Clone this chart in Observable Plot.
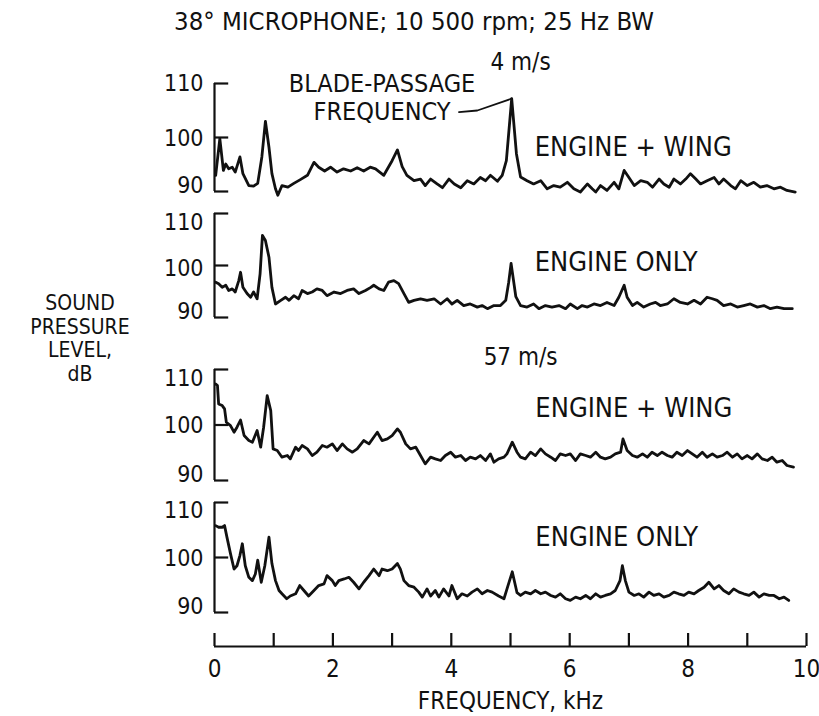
<!DOCTYPE html>
<html><head><meta charset="utf-8">
<script src="https://cdn.jsdelivr.net/npm/d3@7"></script>
<script src="https://cdn.jsdelivr.net/npm/@observablehq/plot@0.6"></script>
<style>
body{margin:0;background:#fff;}
#chart{position:relative;width:819px;height:716px;background:#fff;font-family:"Liberation Sans Narrow","DejaVu Sans Condensed",sans-serif;color:#111;overflow:hidden;}
#chart svg{position:absolute;left:0;overflow:visible;background:transparent;}
.lbl{position:absolute;white-space:nowrap;line-height:1;}
</style></head><body><div id="chart"></div>
<script>
// ---------- data ----------
const title = "38\u00B0 MICROPHONE; 10 500 rpm; 25 Hz BW";
const yAxisTitle = ["SOUND", "PRESSURE", "LEVEL,", "dB"];
const xAxisTitle = "FREQUENCY, kHz";
const speeds = ["4 m/s", "57 m/s"];
const configs = ["ENGINE + WING", "ENGINE ONLY", "ENGINE + WING", "ENGINE ONLY"];
const annotation = ["BLADE-PASSAGE", "FREQUENCY"];
const yTicks = [90, 100, 110];
const xTicks = [0, 1, 2, 3, 4, 5, 6, 7, 8, 9, 10];
const xTickLabels = [0, 2, 4, 6, 8, 10];
const leader = [[4.13, 104.7], [4.44, 105.0], [5.02, 107.2]];

const engineWing4 = [[0.02,93.0],[0.09,99.8],[0.15,93.9],[0.19,95.1],[0.24,94.2],[0.30,94.5],[0.35,93.6],[0.43,96.4],[0.48,93.3],[0.58,91.1],[0.66,91.0],[0.73,91.5],[0.80,96.4],[0.86,103.0],[0.92,98.2],[0.97,93.3],[1.03,90.5],[1.07,89.3],[1.14,91.1],[1.24,90.8],[1.34,91.5],[1.45,92.2],[1.57,93.0],[1.68,95.4],[1.76,94.5],[1.86,93.8],[1.96,94.5],[2.07,93.6],[2.18,94.2],[2.30,93.8],[2.41,94.4],[2.52,93.8],[2.63,94.5],[2.72,94.2],[2.86,93.0],[3.00,95.7],[3.09,97.7],[3.17,94.6],[3.25,93.0],[3.37,92.0],[3.48,92.3],[3.56,91.1],[3.65,92.3],[3.76,91.4],[3.85,90.7],[3.96,92.3],[4.05,91.4],[4.16,90.7],[4.27,92.0],[4.38,91.4],[4.49,92.6],[4.58,92.0],[4.66,93.0],[4.78,91.9],[4.86,93.0],[4.93,95.7],[5.02,107.2],[5.10,97.0],[5.17,92.7],[5.28,92.0],[5.39,91.4],[5.51,92.0],[5.62,90.5],[5.73,91.1],[5.84,90.8],[5.96,91.7],[6.07,90.5],[6.18,89.9],[6.30,91.4],[6.38,90.5],[6.44,89.9],[6.52,91.1],[6.63,90.2],[6.75,91.7],[6.83,90.5],[6.92,93.9],[7.00,92.6],[7.09,91.1],[7.20,92.0],[7.31,91.7],[7.40,90.8],[7.51,92.3],[7.59,91.4],[7.68,90.8],[7.76,92.3],[7.87,91.4],[7.96,92.3],[8.04,93.3],[8.13,92.3],[8.21,91.4],[8.32,92.0],[8.44,92.6],[8.52,91.4],[8.60,92.3],[8.72,91.1],[8.80,90.5],[8.89,92.0],[9.00,91.1],[9.11,91.7],[9.22,90.8],[9.33,91.1],[9.45,90.5],[9.56,90.8],[9.67,90.2],[9.81,89.9]];

const engineOnly4 = [[0.02,96.8],[0.07,96.5],[0.13,95.8],[0.19,96.2],[0.24,95.2],[0.30,95.5],[0.35,94.9],[0.41,97.1],[0.44,98.7],[0.48,95.8],[0.55,94.6],[0.61,93.9],[0.66,94.9],[0.72,93.6],[0.77,98.4],[0.81,105.8],[0.86,104.8],[0.92,101.6],[0.97,95.8],[1.03,92.6],[1.12,93.3],[1.20,93.9],[1.26,93.3],[1.34,94.2],[1.42,93.6],[1.48,95.2],[1.57,94.6],[1.65,94.9],[1.73,95.5],[1.82,95.2],[1.90,94.2],[2.02,94.9],[2.13,94.6],[2.24,95.2],[2.35,95.5],[2.44,94.6],[2.55,95.2],[2.64,95.8],[2.69,96.2],[2.78,95.5],[2.86,95.2],[2.94,96.8],[3.03,97.1],[3.11,96.5],[3.20,94.6],[3.28,92.9],[3.37,93.3],[3.48,93.6],[3.59,93.3],[3.71,93.6],[3.82,92.6],[3.93,93.6],[4.01,92.6],[4.10,93.3],[4.21,92.3],[4.32,92.6],[4.44,92.0],[4.52,92.3],[4.61,91.7],[4.72,92.3],[4.83,92.3],[4.92,93.3],[4.97,96.8],[5.01,100.4],[5.09,94.0],[5.17,92.3],[5.28,92.0],[5.39,92.6],[5.48,91.7],[5.59,92.3],[5.70,92.0],[5.82,92.3],[5.93,91.7],[6.01,92.6],[6.13,91.7],[6.21,92.3],[6.30,92.0],[6.41,92.6],[6.52,92.3],[6.63,92.9],[6.75,92.3],[6.83,93.9],[6.92,96.2],[6.97,93.9],[7.06,92.3],[7.14,92.9],[7.25,92.0],[7.36,92.6],[7.45,92.9],[7.53,92.3],[7.65,92.6],[7.76,93.6],[7.87,92.9],[7.99,92.6],[8.10,93.3],[8.21,92.6],[8.32,93.9],[8.41,93.6],[8.49,93.3],[8.60,92.3],[8.72,92.6],[8.83,92.0],[8.94,92.3],[9.05,92.6],[9.17,92.0],[9.28,92.3],[9.39,91.7],[9.50,92.0],[9.62,91.7],[9.76,91.7]];

const engineWing57 = [[0.02,107.4],[0.05,107.1],[0.07,103.8],[0.13,103.5],[0.17,102.9],[0.20,100.5],[0.27,99.9],[0.33,98.7],[0.38,99.6],[0.44,100.9],[0.50,98.1],[0.58,97.2],[0.64,96.9],[0.72,99.0],[0.78,96.0],[0.83,99.6],[0.89,105.3],[0.95,102.6],[0.99,95.7],[1.06,95.4],[1.14,94.2],[1.23,94.5],[1.28,93.9],[1.37,96.0],[1.42,95.4],[1.48,96.3],[1.57,95.7],[1.65,94.5],[1.73,95.1],[1.82,96.3],[1.90,96.0],[1.99,96.6],[2.07,95.4],[2.16,96.6],[2.24,95.7],[2.33,95.1],[2.41,95.7],[2.52,97.2],[2.61,96.6],[2.69,97.8],[2.75,98.7],[2.83,97.2],[2.92,97.5],[3.00,98.1],[3.09,99.3],[3.14,98.7],[3.23,96.6],[3.31,95.7],[3.40,96.0],[3.48,94.5],[3.56,93.0],[3.65,94.2],[3.73,93.9],[3.82,93.6],[3.90,94.5],[3.99,95.1],[4.07,94.2],[4.16,94.5],[4.24,93.6],[4.32,94.2],[4.41,93.9],[4.49,94.5],[4.58,93.6],[4.66,94.8],[4.72,93.3],[4.80,93.9],[4.89,94.2],[4.94,94.8],[5.03,96.9],[5.11,95.1],[5.17,94.2],[5.25,93.9],[5.34,95.1],[5.42,94.5],[5.51,95.7],[5.59,94.8],[5.68,94.2],[5.76,93.6],[5.84,94.8],[5.93,94.5],[6.01,94.8],[6.10,93.6],[6.18,94.8],[6.27,94.5],[6.35,94.2],[6.44,95.1],[6.52,94.2],[6.60,93.9],[6.69,94.2],[6.77,94.8],[6.86,95.1],[6.90,97.5],[6.97,95.4],[7.06,94.5],[7.14,94.2],[7.23,94.8],[7.31,94.2],[7.39,95.1],[7.48,94.5],[7.56,95.1],[7.65,94.5],[7.73,94.2],[7.81,95.1],[7.90,94.5],[7.99,95.4],[8.07,94.8],[8.15,94.2],[8.24,95.1],[8.32,94.2],[8.41,94.8],[8.49,94.2],[8.58,94.5],[8.66,95.1],[8.75,94.2],[8.83,94.8],[8.91,93.9],[9.00,94.5],[9.08,93.9],[9.17,94.8],[9.25,93.9],[9.34,93.6],[9.42,94.2],[9.50,93.3],[9.59,93.6],[9.67,92.7],[9.78,92.4]];

const engineOnly57 = [[0.02,105.8],[0.07,105.5],[0.13,105.5],[0.17,105.8],[0.21,103.7],[0.27,100.7],[0.33,97.9],[0.38,98.5],[0.43,100.4],[0.47,102.5],[0.52,98.5],[0.58,96.4],[0.64,95.8],[0.69,97.0],[0.73,99.5],[0.79,95.5],[0.85,98.5],[0.92,103.7],[0.97,98.9],[1.03,95.8],[1.09,94.0],[1.14,93.4],[1.22,92.5],[1.28,93.0],[1.37,93.4],[1.44,94.9],[1.51,94.0],[1.59,93.0],[1.68,94.0],[1.76,94.9],[1.85,95.2],[1.90,96.7],[1.99,95.8],[2.04,94.9],[2.10,95.8],[2.19,96.1],[2.27,96.4],[2.35,95.5],[2.44,94.3],[2.52,95.5],[2.61,96.7],[2.69,97.9],[2.78,96.7],[2.83,97.9],[2.92,97.6],[3.00,97.9],[3.09,98.9],[3.14,97.9],[3.20,95.8],[3.28,94.9],[3.37,94.6],[3.45,93.7],[3.51,92.8],[3.59,94.3],[3.65,93.0],[3.73,94.0],[3.79,92.8],[3.87,94.3],[3.96,93.0],[4.01,94.9],[4.10,92.5],[4.18,93.4],[4.27,93.0],[4.35,93.7],[4.44,94.3],[4.52,93.4],[4.61,94.0],[4.69,93.7],[4.80,93.0],[4.89,92.5],[4.95,94.6],[5.03,97.4],[5.11,93.6],[5.17,93.1],[5.25,93.7],[5.34,93.4],[5.42,94.0],[5.51,93.4],[5.59,93.7],[5.68,93.1],[5.76,92.8],[5.84,93.4],[5.93,92.5],[6.01,92.2],[6.10,92.8],[6.18,92.5],[6.27,93.1],[6.35,92.5],[6.44,93.4],[6.52,92.8],[6.60,93.1],[6.69,93.4],[6.77,94.0],[6.85,95.8],[6.89,98.5],[6.94,95.8],[7.00,93.7],[7.09,93.1],[7.17,93.4],[7.25,92.8],[7.34,93.7],[7.42,93.1],[7.51,93.4],[7.59,92.8],[7.68,93.1],[7.76,93.7],[7.84,93.4],[7.93,93.1],[8.01,93.7],[8.10,93.4],[8.18,94.0],[8.27,94.6],[8.35,95.5],[8.44,94.3],[8.52,94.9],[8.60,94.0],[8.69,93.4],[8.77,94.3],[8.86,93.7],[8.94,93.4],[9.03,93.1],[9.11,93.7],[9.20,92.8],[9.28,93.4],[9.37,93.1],[9.45,93.1],[9.54,92.5],[9.62,92.8],[9.70,92.2]];

const series = [engineWing4, engineOnly4, engineWing57, engineOnly57];

// ---------- layout (pixels / placement, kept apart from data) ----------
const W = 819, ML = 214, MR = 13;
const FONT = '"Liberation Sans Narrow","DejaVu Sans Condensed",sans-serif';
const panels = [
  {top: 83,  bottom: 191, lx: 5.41, ly: 98.1,  speed: 0, sy: 113.9, d110: 0,  d100: 1},
  {top: 213, bottom: 317, lx: 5.41, ly: 100.6, d110: 9, d100: 3},
  {top: 369, bottom: 480, lx: 5.42, ly: 103.0, speed: 1, sy: 112.2, d110: 9, d100: 1},
  {top: 502, bottom: 612, lx: 5.42, ly: 103.6, d110: 8, d100: 1}
];
const chart = document.getElementById("chart");
const px = d => d[0], py = d => d[1];

panels.forEach((P, i) => {
  const mt = 40, mb = 14, h = P.bottom - P.top;
  const tickLabel = (v, dy) => Plot.text([v], {x: 0, y: d => d, dx: -11, dy, textAnchor: "end", text: d => String(d), fontSize: 23});
  const marks = [
    Plot.ruleX([0], {y1: 90, y2: 110, strokeWidth: 2.2}),
    Plot.ruleY(yTicks, {y: d => d, x1: 0, x2: 0.24, strokeWidth: 2.2}),
    tickLabel(yTicks[2], P.d110),
    tickLabel(yTicks[1], P.d100),
    tickLabel(yTicks[0], -6),
    Plot.line(series[i], {x: px, y: py, strokeWidth: 2.8, strokeLinejoin: "round", strokeLinecap: "round"}),
    Plot.text([configs[i]], {x: P.lx, y: P.ly, text: d => d, textAnchor: "start", fontSize: 27})
  ];
  if (P.speed !== undefined) {
    marks.push(Plot.text([speeds[P.speed]], {x: 5.17, y: P.sy, text: d => d, fontSize: 24}));
  }
  if (i === 0) {
    marks.push(Plot.text(annotation, {x: 2.83, y: [109.9, 104.7], text: d => d, fontSize: 25}));
    marks.push(Plot.line(leader, {x: px, y: py, strokeWidth: 1.8}));
  }
  const svg = Plot.plot({
    width: W, height: mt + h + mb,
    marginLeft: ML, marginRight: MR, marginTop: mt, marginBottom: mb,
    style: {fontFamily: FONT, fontSize: "23px", color: "#111", background: "transparent", overflow: "visible"},
    x: {domain: [0, 10], axis: null},
    y: {domain: [90, 110], axis: null},
    marks
  });
  svg.style.top = (P.top - mt) + "px";
  chart.appendChild(svg);
});

// x axis (separate strip below the panels)
{
  const top = 633, h = 13;
  const svg = Plot.plot({
    width: W, height: h + 80,
    marginLeft: ML, marginRight: MR, marginTop: 0, marginBottom: 80,
    style: {fontFamily: FONT, fontSize: "24px", color: "#111", background: "transparent", overflow: "visible"},
    x: {domain: [0, 10], axis: null},
    y: {domain: [0, 1], axis: null},
    marks: [
      Plot.ruleY([0], {x1: 0, x2: 10, strokeWidth: 2}),
      Plot.tickX(xTicks, {x: d => d, strokeWidth: 2.2}),
      Plot.text(xTickLabels, {x: d => d, y: 0, dy: 23, text: d => String(d), fontSize: 24}),
      Plot.text([xAxisTitle], {x: 5, y: 0, dy: 55, text: d => d, fontSize: 24})
    ]
  });
  svg.style.top = top + "px";
  chart.appendChild(svg);
}

// title and y-axis title
const t = document.createElement("div");
t.className = "lbl"; t.textContent = title;
Object.assign(t.style, {left: "414px", top: "22px", fontSize: "25.5px", transform: "translate(-50%,-50%)"});
chart.appendChild(t);

yAxisTitle.forEach((s, k) => {
  const d = document.createElement("div");
  d.className = "lbl"; d.textContent = s;
  Object.assign(d.style, {left: "80px", top: (303 + k * 23.5) + "px", fontSize: "21px", transform: "translate(-50%,-50%)"});
  chart.appendChild(d);
});
</script></body></html>
